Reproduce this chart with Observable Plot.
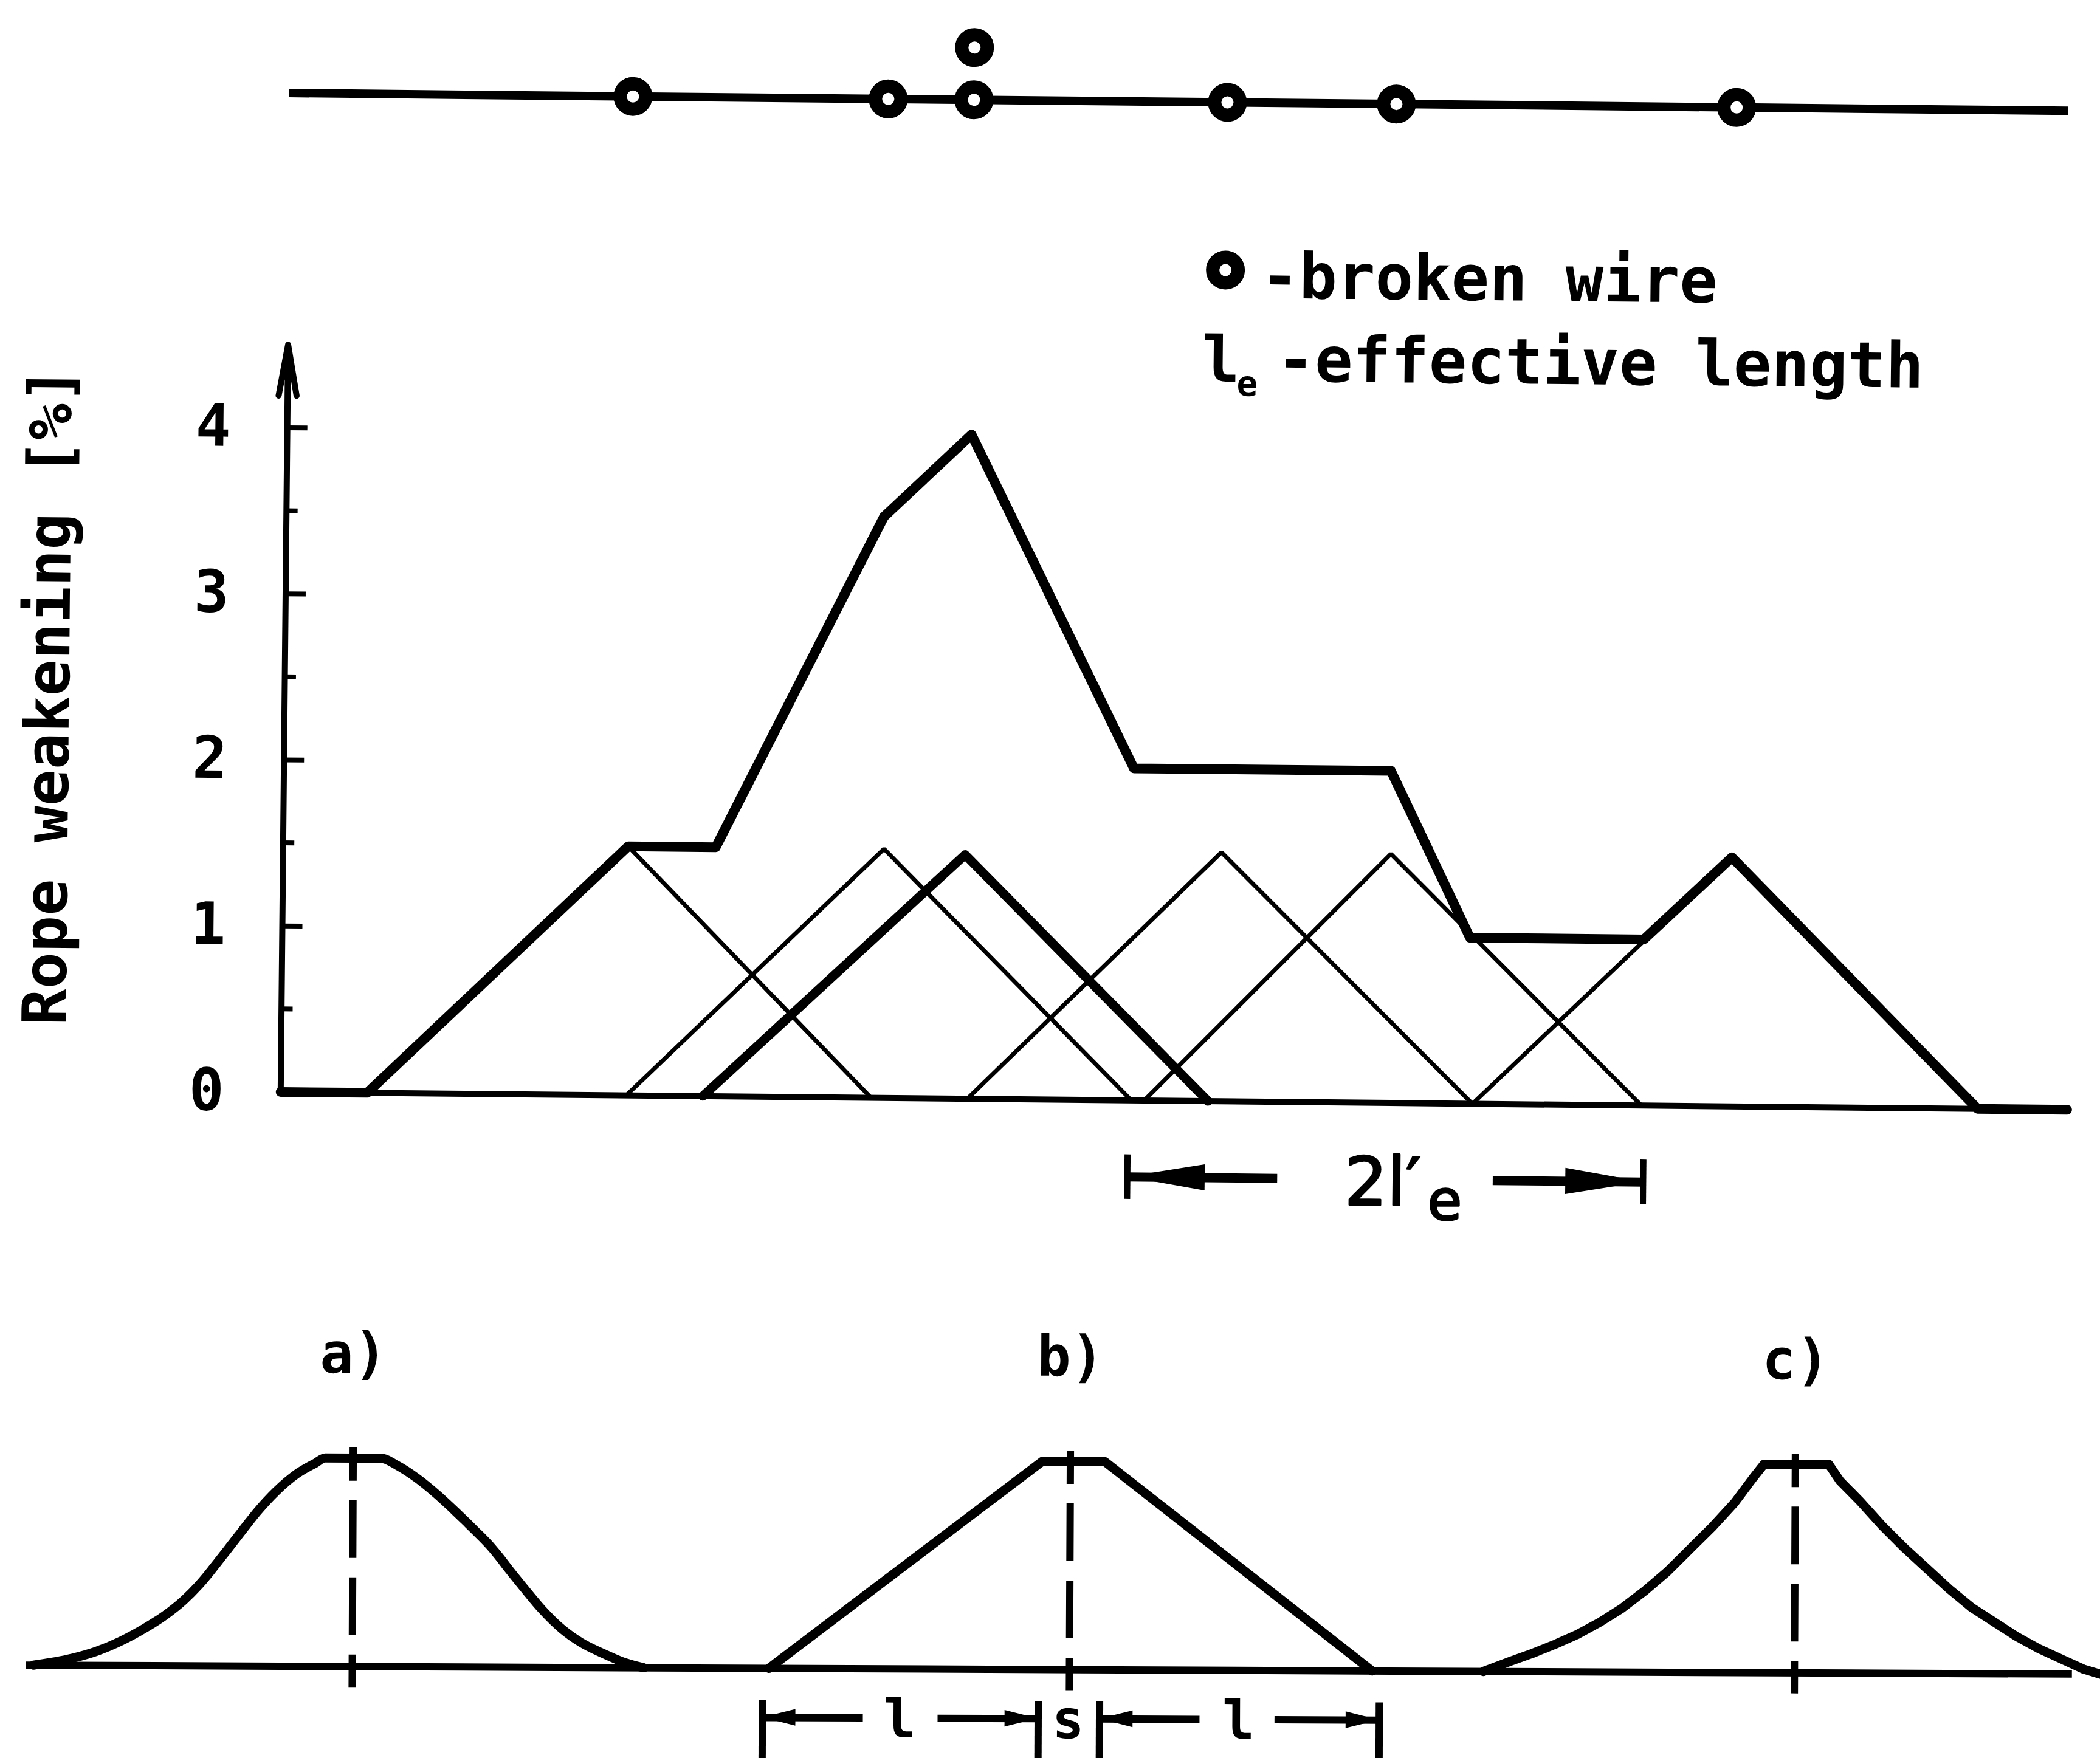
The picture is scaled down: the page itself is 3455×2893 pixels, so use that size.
<!DOCTYPE html>
<html><head><meta charset="utf-8">
<script src="https://cdn.jsdelivr.net/npm/d3@7"></script>
<script src="https://cdn.jsdelivr.net/npm/@observablehq/plot@0.6"></script>
<style>
html,body{margin:0;padding:0;background:#fff;overflow:hidden;}
#wrap{position:relative;width:3455px;height:2893px;overflow:hidden;background:#fff;}
</style></head><body><div id="wrap"></div>
<script>
// ---------- data: rope with broken wires (x in units, l'e = 10) ----------
const wirePositions = [13.71, 23.74, 27.11, 27.11, 37.07, 43.71, 57.08];
const wireLevels    = [0, 0, 0, 1, 0, 0, 0];
const ropeExtent    = [0.21, 70.12];

// ---------- data: main chart ----------
const envelopeX = [0, 3.4, 13.56, 17.0, 23.48, 26.89, 33.4, 43.5, 46.67, 53.5, 56.93, 66.68, 70.2];
const envelopeY = [0, 0, 1.5, 1.5, 3.5, 4, 2, 2, 1, 1, 1.5, 0, 0];

const triangleNames  = ["T1", "T2", "T3", "T4", "T5", "T6"];
const triangleLeft   = [3.4, 13.58, 16.59, 26.98, 33.93, 46.83];
const trianglePeak   = [13.56, 23.61, 26.8, 36.87, 43.53, 56.93];
const triangleHeight = [1.5, 1.5, 1.47, 1.5, 1.5, 1.5];
const triangleRight  = [23.2, 33.43, 36.44, 46.83, 53.47, 66.68];
const triangleBold   = [false, false, true, false, false, false];

const yTicks      = [0, 1, 2, 3, 4];
const yMinorTicks = [0.5, 1.5, 2.5, 3.5];
const yAxisTop    = 4.5;
const yLabel      = "Rope weakening [%]";
const baselineExtent = [0, 70.2];

const spanExtent = [33.3, 53.57];   // 2l'e
const spanLevel  = -0.461;
const spanText   = "2l′";
const spanSub    = "e";

const legendItems = ["-broken wire", "-effective length"];
const legendSymbolText = "l";
const legendSub = "e";

// ---------- data: bottom shapes (x in units of l, height normalised) ----------
const shapeLabels  = ["a)", "b)", "c)"];
const shapeCenters = [-2.582, 0, 2.61];
const shapeA_dx = [-1.148,-1.008,-0.921,-0.834,-0.747,-0.677,-0.607,-0.555,-0.520,-0.485,-0.450,-0.398,-0.345,-0.276,-0.206,-0.136,-0.101,0.099,0.160,0.230,0.300,0.370,0.440,0.492,0.527,0.562,0.614,0.684,0.754,0.823,0.911,0.980,1.050];
const shapeA_h  = [0,0.034,0.068,0.117,0.180,0.240,0.315,0.385,0.440,0.500,0.560,0.650,0.740,0.840,0.920,0.975,1,1,0.965,0.905,0.830,0.745,0.655,0.585,0.530,0.470,0.385,0.275,0.185,0.120,0.063,0.025,0];
const shapeB_dx = [-1.082, -0.100, 0.123, 1.090];
const shapeB_h  = [0, 1, 1, 0];
const shapeC_dx = [-1.120,-1.024,-0.943,-0.862,-0.782,-0.701,-0.621,-0.540,-0.459,-0.379,-0.298,-0.218,-0.153,-0.113,0.121,0.161,0.234,0.314,0.395,0.476,0.556,0.637,0.717,0.798,0.878,0.959,1.040,1.101];
const shapeC_h  = [0,0.049,0.088,0.132,0.180,0.239,0.307,0.390,0.483,0.590,0.698,0.815,0.932,1,1,0.922,0.824,0.707,0.600,0.502,0.405,0.317,0.249,0.180,0.122,0.073,0.024,0];
const bottomBaseline = [-3.755, 3.61];
const dimBars    = [-1.105, -0.112, 0.109, 1.116];
const dimLabels  = ["l", "s", "l"];
const dimLabelX  = [-0.611, -0.004, 0.609];
const dimSegments = [[-1.105, -0.742], [-0.473, -0.112], [0.109, 0.47], [0.74, 1.116]];
const dimLevel = -0.236;

// ---------- layout ----------
const W = 3455;
const MONO = "'DejaVu Sans Mono', monospace";
const SANS = "'DejaVu Sans', sans-serif";
const xMain = {domain: [-467 / 41.87, (W - 467) / 41.87], range: [0, W], axis: null};
const wrap = document.getElementById("wrap");
function place(svg, top, angle) {
  svg.style.position = "absolute";
  svg.style.left = "0px";
  svg.style.top = top + "px";
  svg.style.maxWidth = "none";
  svg.style.overflow = "visible";
  svg.style.background = "transparent";
  svg.style.transform = `rotate(${angle}deg)`;
  wrap.appendChild(svg);
}

// ---------- rope ----------
const wires = wirePositions.map((x, i) => ({x, level: wireLevels[i]}));
const rope = Plot.plot({
  width: W, height: 300, margin: 0,
  x: xMain, y: {domain: [0, 1], range: [165, 79], axis: null},
  marks: [
    Plot.ruleY([0], {x1: ropeExtent[0], x2: ropeExtent[1], stroke: "black", strokeWidth: 14}),
    Plot.dot(wires, {x: "x", y: "level", r: 21, stroke: "black", strokeWidth: 22, fill: "white"})
  ]
});
place(rope, 0, 0.57);

// ---------- main chart ----------
const envelope = envelopeX.map((x, i) => ({x, y: envelopeY[i]}));
const triRows = [];
triangleNames.forEach((n, i) => {
  triRows.push({id: n, bold: triangleBold[i], x: triangleLeft[i], y: 0});
  triRows.push({id: n, bold: triangleBold[i], x: trianglePeak[i], y: triangleHeight[i]});
  triRows.push({id: n, bold: triangleBold[i], x: triangleRight[i], y: 0});
});
const headLen = 3.05, headHalf = 0.079;
const spanHeads = [
  {id: "L", x: spanExtent[0], y1: spanLevel, y2: spanLevel},
  {id: "L", x: spanExtent[0] + headLen, y1: spanLevel - headHalf, y2: spanLevel + headHalf},
  {id: "R", x: spanExtent[1] - headLen, y1: spanLevel - headHalf, y2: spanLevel + headHalf},
  {id: "R", x: spanExtent[1], y1: spanLevel, y2: spanLevel}
];
const spanLines = [
  {x1: spanExtent[0], x2: spanExtent[0] + 5.9},
  {x1: spanExtent[1] - 5.9, x2: spanExtent[1]}
];
const main = Plot.plot({
  width: W, height: 1700, margin: 0,
  x: xMain, y: {domain: [0, 4], range: [1429, 336]},
  marks: [
    Plot.ruleY([0], {x1: baselineExtent[0], x2: baselineExtent[1], stroke: "black", strokeWidth: 10}),
    Plot.arrow([{x1: 0, y1: 0, x2: 0, y2: yAxisTop}], {x1: "x1", y1: "y1", x2: "x2", y2: "y2", stroke: "black", strokeWidth: 10, headLength: 12.75, headAngle: 20}),
    Plot.ruleY(yTicks.filter(d => d > 0), {x1: 0, x2: 0.8, stroke: "black", strokeWidth: 8}),
    Plot.ruleY(yMinorTicks, {x1: 0, x2: 0.45, stroke: "black", strokeWidth: 8}),
    Plot.axisY(yTicks, {anchor: "left", tickSize: 0, tickPadding: 0, dx: 345, textAnchor: "middle", tickFormat: d => String(d), fontSize: 96, fontWeight: "bold", fontFamily: MONO, fill: "black", label: null}),
    Plot.text([yLabel], {x: -9.24, y: 2.37, text: d => d, rotate: -90, fontSize: 100, fontWeight: "bold", fontFamily: MONO, fill: "black"}),
    Plot.line(triRows.filter(d => !d.bold), {x: "x", y: "y", z: "id", stroke: "black", strokeWidth: 7, strokeLinejoin: "miter"}),
    Plot.line(triRows.filter(d => d.bold), {x: "x", y: "y", z: "id", stroke: "black", strokeWidth: 15, strokeLinejoin: "round"}),
    Plot.line(envelope, {x: "x", y: "y", stroke: "black", strokeWidth: 16, strokeLinejoin: "round"}),
    // 2l'e dimension
    Plot.ruleX(spanExtent, {y1: spanLevel - 0.134, y2: spanLevel + 0.134, stroke: "black", strokeWidth: 10}),
    Plot.ruleY(spanLines, {x1: "x1", x2: "x2", y: spanLevel, stroke: "black", strokeWidth: 15}),
    Plot.areaY(spanHeads, {x: "x", y1: "y1", y2: "y2", z: "id", fill: "black"}),
    Plot.text([spanText], {x: 41.84, y: -0.615, text: d => d, textAnchor: "start", lineAnchor: "bottom", fontSize: 110, fontWeight: "normal", fontFamily: SANS, fill: "black", stroke: "black", strokeWidth: 3}),
    Plot.text([spanSub], {x: 45.1, y: -0.70, text: d => d, textAnchor: "start", lineAnchor: "bottom", fontSize: 92, fontWeight: "normal", fontFamily: SANS, fill: "black", stroke: "black", strokeWidth: 3}),
    // legend
    Plot.dot([{x: 36.8, y: 5.006}], {x: "x", y: "y", r: 21, stroke: "black", strokeWidth: 22, fill: "white"}),
    Plot.text([legendItems[0]], {x: 38.2, y: 4.84, text: d => d, textAnchor: "start", lineAnchor: "bottom", fontSize: 104, fontWeight: "bold", fontFamily: MONO, fill: "black"}),
    Plot.text([legendSymbolText], {x: 35.9, y: 4.335, text: d => d, textAnchor: "start", lineAnchor: "bottom", fontSize: 104, fontWeight: "bold", fontFamily: MONO, fill: "black"}),
    Plot.text([legendSub], {x: 37.28, y: 4.25, text: d => d, textAnchor: "start", lineAnchor: "bottom", fontSize: 58, fontWeight: "bold", fontFamily: MONO, fill: "black"}),
    Plot.text([legendItems[1]], {x: 38.85, y: 4.34, text: d => d, textAnchor: "start", lineAnchor: "bottom", fontSize: 104, fontWeight: "bold", fontFamily: MONO, fill: "black"})
  ]
});
place(main, 380, 0.57);

// ---------- bottom shapes ----------
const U = 457, C0 = 1760;
const xBot = {domain: [-C0 / U, (W - C0) / U], range: [0, W], axis: null};
const rowsA = shapeA_dx.map((d, i) => ({x: shapeCenters[0] + d, h: shapeA_h[i]}));
const rowsB = shapeB_dx.map((d, i) => ({x: shapeCenters[1] + d, h: shapeB_h[i]}));
const rowsC = shapeC_dx.map((d, i) => ({x: shapeCenters[2] + d, h: shapeC_h[i]}));
const dimHeadLen = 0.12, dimHeadHalf = 0.04;
const dimHeads = [];
[[dimBars[0], 1], [dimBars[1], -1], [dimBars[2], 1], [dimBars[3], -1]].forEach(([tip, dir], i) => {
  const pts = [
    {id: i, x: tip, y1: dimLevel, y2: dimLevel},
    {id: i, x: tip + dir * dimHeadLen, y1: dimLevel - dimHeadHalf, y2: dimLevel + dimHeadHalf}
  ];
  pts.sort((a, b) => a.x - b.x);
  dimHeads.push(...pts);
});
const bottom = Plot.plot({
  width: W, height: 743, margin: 0,
  x: xBot, y: {domain: [0, 1], range: [597, 254], axis: null},
  marks: [
    Plot.ruleY([0], {x1: bottomBaseline[0], x2: bottomBaseline[1], stroke: "black", strokeWidth: 12}),
    Plot.ruleX(shapeCenters, {y1: 1.05, y2: -0.10, stroke: "black", strokeWidth: 12, strokeDasharray: "95,32", strokeDashoffset: 40}),
    Plot.line(rowsA, {x: "x", y: "h", curve: "monotone-x", stroke: "black", strokeWidth: 15}),
    Plot.line(rowsB, {x: "x", y: "h", curve: "linear", stroke: "black", strokeWidth: 15, strokeLinejoin: "round"}),
    Plot.line(rowsC, {x: "x", y: "h", curve: "linear", stroke: "black", strokeWidth: 15, strokeLinejoin: "round"}),
    Plot.text(shapeLabels, {x: (d, i) => shapeCenters[i], y: 1.41, text: d => d, textAnchor: "middle", lineAnchor: "bottom", fontSize: 92, fontWeight: "bold", fontFamily: MONO, fill: "black"}),
    Plot.ruleX(dimBars, {y1: -0.152, y2: -0.45, stroke: "black", strokeWidth: 12}),
    Plot.ruleY(dimSegments, {x1: d => d[0], x2: d => d[1], y: dimLevel, stroke: "black", strokeWidth: 12}),
    Plot.areaY(dimHeads, {x: "x", y1: "y1", y2: "y2", z: "id", fill: "black"}),
    Plot.text(dimLabels, {x: (d, i) => dimLabelX[i], y: dimLevel - 0.01, text: d => d, textAnchor: "middle", lineAnchor: "middle", fontSize: 88, fontWeight: "bold", fontFamily: MONO, fill: "black"})
  ]
});
place(bottom, 2150, 0.25);
</script></body></html>
